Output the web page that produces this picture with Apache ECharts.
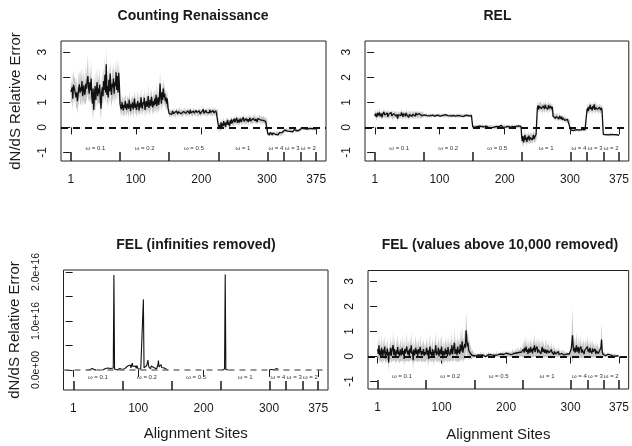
<!DOCTYPE html>
<html><head><meta charset="utf-8">
<script src="https://cdn.jsdelivr.net/npm/echarts@6/dist/echarts.min.js"></script>
<style>html,body{margin:0;padding:0;background:#fff}#c{width:632px;height:446px}</style>
</head><body><div id="c"></div><script>
const FONT = "'Liberation Sans', Arial, Helvetica, sans-serif";
const panelTitles = ['Counting Renaissance', 'REL', 'FEL (infinities removed)', 'FEL (values above 10,000 removed)'];
const xTickValues = [1, 100, 200, 300, 375];
const segmentBounds = [1, 76, 151, 226, 301, 326, 351, 375];
const omegaPos = [38.5, 113.5, 188.5, 263.5, 313.5, 338.5, 363];
const omegaLabels = ['ω = 0.1', 'ω = 0.2', 'ω = 0.5', 'ω = 1', 'ω = 4', 'ω = 3', 'ω = 2'];
const yTickValues = [-1, 0, 1, 2, 3];
const felInfYTicks = [0, 5e15, 1e16, 1.5e16, 2e16];
const felInfYLabels = [0, 1e16, 2e16];
const sites = Array.from({length: 375}, (_, i) => i + 1);

// Counting Renaissance: relative error per site and half-width of the grey band
const crMean = [
1.42,1.35,1.60,1.15,1.70,1.62,1.48,1.55,1.20,1.40,
1.05,1.30,1.55,1.72,1.38,1.60,1.45,1.85,1.25,1.50,
1.68,1.30,1.42,1.75,1.55,1.90,2.05,1.60,1.35,1.80,
1.48,1.95,1.20,0.95,1.55,0.70,1.30,1.65,1.10,1.45,
1.80,1.25,1.55,1.35,1.70,1.05,0.75,1.40,1.60,1.25,
1.85,1.50,2.10,1.40,2.52,1.30,1.65,1.20,1.90,1.45,
2.15,1.55,1.30,1.75,1.60,1.95,1.35,1.80,1.65,2.20,
1.50,2.05,1.40,2.18,1.70,
0.95,0.80,0.72,1.00,0.85,0.68,0.90,0.78,1.05,0.82,
0.70,0.95,0.88,0.75,1.10,0.85,0.65,0.92,0.80,1.00,
0.72,0.88,1.15,0.78,0.95,0.70,0.85,1.05,0.90,0.68,
0.98,0.80,1.20,0.85,0.75,1.00,0.92,1.18,0.70,0.88,
1.05,0.82,0.95,1.25,0.78,0.90,1.10,0.85,1.22,0.95,
0.80,1.05,0.88,1.15,0.92,1.30,0.85,1.00,1.20,0.90,
1.10,1.75,1.25,0.95,1.40,1.10,1.55,1.20,1.35,1.05,
1.20,0.95,1.15,0.80,0.75,
0.55,0.48,0.62,0.58,0.52,0.65,0.60,0.55,0.62,0.50,
0.58,0.66,0.60,0.54,0.63,0.57,0.70,0.60,0.55,0.62,
0.58,0.52,0.64,0.60,0.68,0.56,0.61,0.54,0.66,0.59,
0.63,0.55,0.70,0.58,0.62,0.52,0.60,0.65,0.57,0.63,
0.55,0.68,0.60,0.53,0.62,0.58,0.66,0.54,0.61,0.57,
0.64,0.60,0.72,0.56,0.62,0.58,0.68,0.60,0.55,0.66,
0.62,0.58,0.70,0.60,0.64,0.56,0.62,0.68,0.58,0.63,
0.60,0.66,0.57,0.62,0.60,
0.05,-0.05,0.10,0.00,0.20,-0.02,0.15,0.05,0.25,0.08,
0.18,0.02,0.22,0.12,0.30,0.10,0.20,0.05,0.28,0.15,
0.32,0.18,0.25,0.12,0.35,0.20,0.28,0.22,0.38,0.18,
0.30,0.25,0.20,0.35,0.28,0.22,0.32,0.26,0.40,0.24,
0.30,0.20,0.35,0.28,0.25,0.33,0.22,0.30,0.38,0.26,
0.32,0.28,0.24,0.36,0.30,0.42,0.26,0.34,0.30,0.22,
0.35,0.28,0.32,0.40,0.30,0.25,0.36,0.30,0.28,0.34,
0.26,0.30,0.24,0.20,0.28,
-0.22,-0.28,-0.25,-0.30,-0.20,-0.26,-0.24,-0.30,-0.22,-0.27,
-0.25,-0.20,-0.28,-0.24,-0.26,-0.22,-0.30,-0.25,-0.21,-0.27,
-0.23,-0.26,-0.20,-0.24,-0.22,
-0.14,-0.10,-0.16,-0.12,-0.08,-0.15,-0.11,-0.13,-0.09,-0.16,
-0.12,-0.10,-0.14,-0.18,-0.11,-0.13,-0.09,-0.15,-0.12,-0.10,
-0.14,-0.11,-0.16,-0.12,-0.10,
-0.04,-0.07,-0.02,-0.06,-0.03,-0.08,-0.05,-0.02,-0.06,-0.04,
-0.07,-0.03,-0.05,-0.09,-0.04,-0.02,-0.06,-0.03,-0.05,-0.07,
-0.02,-0.04,-0.06,-0.03,-0.05
];
const crErr = [
0.40,0.35,0.55,0.45,0.60,0.40,0.50,0.35,0.45,0.60,
0.50,0.40,0.65,0.45,0.38,0.70,0.50,0.55,0.42,0.48,
0.60,0.40,0.50,0.75,0.45,0.55,0.85,0.50,0.40,0.65,
0.48,0.70,0.45,0.55,0.50,0.40,0.45,0.60,0.50,0.42,
0.65,0.45,0.55,0.40,0.70,0.50,0.45,0.48,0.60,0.42,
0.55,0.45,0.75,0.50,0.70,0.45,0.60,0.40,0.65,0.50,
0.55,0.60,0.45,0.70,0.50,0.65,0.45,0.55,0.60,0.55,
0.45,0.60,0.40,0.55,0.45,
0.30,0.25,0.35,0.28,0.32,0.25,0.38,0.30,0.28,0.35,
0.25,0.32,0.30,0.40,0.28,0.30,0.25,0.35,0.30,0.28,
0.32,0.38,0.30,0.25,0.35,0.28,0.30,0.42,0.30,0.26,
0.35,0.28,0.40,0.30,0.25,0.32,0.30,0.38,0.28,0.30,
0.35,0.30,0.28,0.45,0.30,0.32,0.38,0.30,0.35,0.28,
0.30,0.40,0.32,0.35,0.30,0.42,0.30,0.35,0.40,0.30,
0.38,0.45,0.40,0.32,0.40,0.35,0.42,0.35,0.38,0.30,
0.32,0.28,0.30,0.25,0.22,
0.12,0.10,0.14,0.11,0.13,0.10,0.15,0.12,0.11,0.14,
0.10,0.13,0.12,0.16,0.11,0.12,0.14,0.10,0.13,0.12,
0.15,0.11,0.12,0.10,0.14,0.13,0.11,0.12,0.15,0.10,
0.12,0.14,0.11,0.13,0.12,0.10,0.15,0.12,0.11,0.13,
0.14,0.10,0.12,0.13,0.11,0.15,0.12,0.10,0.14,0.12,
0.11,0.13,0.16,0.12,0.10,0.14,0.12,0.11,0.13,0.15,
0.12,0.10,0.14,0.12,0.13,0.11,0.15,0.12,0.10,0.13,
0.12,0.14,0.11,0.12,0.13,
0.15,0.18,0.14,0.16,0.20,0.13,0.17,0.15,0.19,0.14,
0.16,0.13,0.18,0.15,0.14,0.17,0.12,0.15,0.16,0.13,
0.15,0.12,0.14,0.16,0.13,0.15,0.12,0.14,0.17,0.13,
0.12,0.15,0.13,0.14,0.12,0.16,0.13,0.12,0.15,0.13,
0.14,0.12,0.15,0.13,0.12,0.14,0.16,0.12,0.13,0.15,
0.12,0.14,0.13,0.15,0.12,0.16,0.13,0.14,0.12,0.13,
0.15,0.12,0.14,0.13,0.12,0.15,0.13,0.12,0.14,0.13,
0.12,0.14,0.13,0.12,0.13,
0.08,0.07,0.09,0.06,0.08,0.07,0.08,0.09,0.06,0.07,
0.08,0.07,0.06,0.08,0.09,0.07,0.08,0.06,0.07,0.08,
0.07,0.09,0.06,0.08,0.07,
0.06,0.07,0.05,0.08,0.06,0.07,0.05,0.06,0.08,0.06,
0.07,0.05,0.06,0.07,0.08,0.06,0.05,0.07,0.06,0.08,
0.06,0.07,0.05,0.06,0.07,
0.05,0.06,0.04,0.05,0.06,0.05,0.04,0.06,0.05,0.07,
0.05,0.04,0.06,0.05,0.04,0.06,0.05,0.04,0.05,0.06,
0.04,0.05,0.06,0.04,0.05
];

// REL
const relMean = [
0.45,0.55,0.50,0.42,0.58,0.48,0.52,0.60,0.45,0.50,
0.55,0.40,0.52,0.48,0.62,0.50,0.45,0.55,0.50,0.58,
0.42,0.52,0.48,0.55,0.50,0.60,0.46,0.52,0.40,0.55,
0.50,0.48,0.58,0.44,0.52,0.35,0.50,0.55,0.45,0.52,
0.48,0.60,0.50,0.42,0.55,0.48,0.52,0.45,0.58,0.50,
0.46,0.54,0.40,0.52,0.48,0.56,0.50,0.44,0.53,0.48,
0.55,0.50,0.45,0.58,0.50,0.48,0.52,0.46,0.55,0.50,
0.48,0.52,0.47,0.53,0.50,
0.48,0.50,0.46,0.49,0.52,0.47,0.45,0.50,0.48,0.46,
0.50,0.47,0.44,0.49,0.51,0.47,0.48,0.45,0.50,0.48,
0.46,0.49,0.47,0.52,0.48,0.45,0.47,0.50,0.46,0.48,
0.49,0.45,0.47,0.51,0.48,0.46,0.50,0.47,0.44,0.48,
0.50,0.46,0.48,0.45,0.49,0.47,0.51,0.46,0.48,0.45,
0.50,0.47,0.43,0.48,0.46,0.50,0.47,0.45,0.49,0.46,
0.48,0.44,0.50,0.47,0.45,0.49,0.46,0.48,0.51,0.46,
0.48,0.45,0.49,0.47,0.48,
0.02,0.04,0.00,0.05,0.01,0.06,0.02,-0.01,0.04,0.03,
0.07,0.02,0.05,0.00,0.03,0.08,0.02,0.04,-0.02,0.03,
0.05,0.01,0.06,0.03,0.00,0.04,0.02,0.05,-0.01,0.03,
0.02,0.05,0.00,0.03,-0.02,0.01,0.04,0.00,0.02,-0.01,
0.03,0.01,0.05,0.02,0.08,0.03,0.00,0.04,0.02,0.06,
0.01,0.03,0.05,0.02,0.04,0.00,0.06,0.03,0.01,0.05,
0.02,0.07,0.03,0.04,0.01,0.05,0.03,0.08,0.02,0.04,
0.06,0.03,0.05,0.02,0.04,
-0.40,-0.55,-0.35,-0.60,-0.45,-0.30,-0.50,-0.42,-0.58,-0.38,
-0.48,-0.33,-0.52,-0.40,-0.45,-0.36,-0.50,-0.42,-0.30,-0.46,
-0.38,-0.44,-0.28,-0.35,
0.78,0.88,0.72,0.85,0.80,0.92,0.75,0.82,0.70,0.86,
0.79,0.74,0.90,0.80,0.76,0.84,0.72,0.88,0.81,0.77,
0.85,0.80,0.74,0.82,
0.45,0.52,0.40,0.48,0.36,0.44,0.50,0.38,0.42,0.33,
0.46,0.40,0.35,0.43,0.30,0.38,0.32,0.40,0.28,0.35,
0.30,0.26,0.32,0.24,0.28,0.22,0.25,
-0.10,-0.12,-0.09,-0.11,-0.13,-0.10,-0.08,-0.12,-0.11,-0.09,
-0.12,-0.10,-0.13,-0.11,-0.09,-0.10,-0.12,-0.11,-0.08,-0.10,
-0.12,-0.11,-0.09,-0.10,-0.11,
0.70,0.78,0.65,0.82,0.74,0.90,0.72,0.80,0.68,0.85,
0.76,0.92,0.70,0.80,0.74,0.86,0.72,0.78,0.66,0.80,
0.74,0.70,0.78,0.68,0.72,
-0.28,-0.30,-0.26,-0.32,-0.29,-0.27,-0.31,-0.28,-0.30,-0.26,
-0.29,-0.32,-0.28,-0.30,-0.27,-0.31,-0.29,-0.28,-0.30,-0.32,
-0.29,-0.31,-0.28,-0.30,-0.32
];
const relErr = [
0.12,0.15,0.10,0.14,0.18,0.11,0.13,0.16,0.12,0.10,
0.15,0.12,0.14,0.11,0.17,0.13,0.10,0.14,0.12,0.16,
0.11,0.13,0.15,0.12,0.10,0.14,0.12,0.18,0.11,0.13,
0.15,0.10,0.12,0.14,0.11,0.16,0.13,0.12,0.10,0.15,
0.12,0.14,0.11,0.13,0.17,0.12,0.10,0.14,0.12,0.15,
0.11,0.13,0.12,0.16,0.10,0.14,0.12,0.11,0.13,0.15,
0.12,0.10,0.14,0.12,0.13,0.11,0.15,0.12,0.10,0.13,
0.12,0.14,0.11,0.12,0.10,
0.06,0.05,0.07,0.06,0.08,0.05,0.06,0.07,0.05,0.06,
0.08,0.06,0.05,0.07,0.06,0.05,0.07,0.06,0.08,0.05,
0.06,0.07,0.05,0.06,0.08,0.06,0.05,0.07,0.06,0.05,
0.07,0.06,0.05,0.08,0.06,0.07,0.05,0.06,0.07,0.05,
0.06,0.08,0.05,0.06,0.07,0.06,0.05,0.07,0.06,0.05,
0.07,0.06,0.08,0.05,0.06,0.07,0.05,0.06,0.08,0.06,
0.05,0.07,0.06,0.05,0.07,0.06,0.05,0.06,0.07,0.05,
0.06,0.05,0.07,0.06,0.05,
0.05,0.07,0.06,0.05,0.08,0.06,0.05,0.07,0.06,0.09,
0.05,0.06,0.07,0.05,0.06,0.08,0.05,0.07,0.06,0.05,
0.07,0.06,0.05,0.08,0.06,0.05,0.07,0.06,0.05,0.09,
0.06,0.05,0.07,0.06,0.08,0.05,0.06,0.07,0.05,0.06,
0.08,0.05,0.07,0.06,0.10,0.05,0.06,0.07,0.05,0.08,
0.06,0.05,0.07,0.06,0.09,0.05,0.07,0.06,0.05,0.08,
0.06,0.07,0.05,0.06,0.08,0.05,0.07,0.06,0.05,0.07,
0.06,0.08,0.05,0.06,0.07,
0.18,0.22,0.15,0.20,0.17,0.24,0.16,0.19,0.21,0.15,
0.18,0.20,0.16,0.22,0.17,0.19,0.15,0.21,0.18,0.16,
0.20,0.17,0.15,0.18,
0.15,0.18,0.13,0.16,0.20,0.14,0.17,0.15,0.19,0.13,
0.16,0.18,0.14,0.17,0.15,0.13,0.18,0.16,0.14,0.17,
0.15,0.13,0.16,0.14,
0.12,0.10,0.13,0.11,0.09,0.12,0.10,0.13,0.11,0.09,
0.12,0.10,0.11,0.09,0.12,0.10,0.08,0.11,0.09,0.10,
0.08,0.09,0.10,0.08,0.09,0.07,0.08,
0.04,0.05,0.03,0.04,0.05,0.04,0.03,0.05,0.04,0.04,
0.05,0.03,0.04,0.05,0.04,0.03,0.04,0.05,0.04,0.03,
0.05,0.04,0.03,0.04,0.05,
0.14,0.18,0.12,0.16,0.20,0.13,0.17,0.15,0.19,0.12,
0.16,0.18,0.14,0.20,0.13,0.17,0.15,0.12,0.16,0.14,
0.18,0.13,0.15,0.12,0.14,
0.04,0.05,0.03,0.04,0.05,0.04,0.03,0.04,0.05,0.03,
0.04,0.05,0.04,0.03,0.04,0.05,0.03,0.04,0.04,0.05,
0.03,0.04,0.05,0.03,0.04
];

// FEL (infinities removed): runs of finite values; sites outside the runs were removed
const felInfRunStarts = [22, 46, 228, 300];
const felInfRunA = [0,1e14,2e14,3e14,1e14,0,0,1e14,3e14,5e14,2e14,1e14,0,1e14,0];
const felInfRunB = [
0,1e14,2e14,1e14,3e14,1e14,0,2e14,4e14,1e14,5e14,8e14,3e14,2e14,6e14,1e14,4e14,1.94e16,2e14,1e14,0,
1e14,0,2e14,1e14,0,3e14,1e14,2e14,0,1e14,4e14,2e14,1e14,3e14,6e14,2e14,4e14,
8e14,5e14,1.2e15,6e14,1.0e15,4e14,9e14,1.4e15,7e14,5e14,1.1e15,6e14,8e14,3e14,9e14,5e14,2e14,
3e14,1e14,4e14,2e14,1e14,3e14,5e14,
1.44e16,
4e14,2e14,8e14,5e14,9e14,6e14,
2.0e15,
7e14,3e14,5e14,2e14,8e14,4e14,6e14,1.2e15,5e14,3e14,7e14,4e14,2e14,6e14,9e14,
1.9e15,
6e14,4e14,8e14,1.1e15,5e14,3e14,7e14,9e14,4e14,6e14,2e14,3e14,1e14,2e14,0
];
const felInfRunC = [0,0,1e14,0,2e14,1.95e16,1e14,0,0,1e14,0];
const felInfRunD = [0,1e14,0,2e14,1e14,3e14,2e14,4e14,1e14,2e14,0,1e14,3e14,1e14,0,0];

// FEL (values above 10,000 removed)
const felMean = [
0.30,0.10,0.45,0.05,0.25,-0.05,0.35,0.15,0.00,0.28,
0.12,0.40,-0.08,0.20,0.05,0.32,0.10,-0.25,0.18,0.08,
0.35,0.02,0.22,0.15,0.45,0.05,0.30,0.10,-0.05,0.25,
0.12,0.38,0.08,0.20,0.00,0.28,0.15,0.05,0.35,0.10,
0.22,-0.10,0.30,0.12,0.05,0.40,0.18,0.08,0.25,0.02,
0.32,0.15,0.45,0.10,0.20,-0.15,0.28,0.05,0.18,0.35,
0.10,0.25,0.00,0.30,0.12,0.08,0.38,0.15,0.05,0.22,
0.10,0.30,0.02,0.18,0.08,
0.15,0.35,0.05,0.25,-0.10,0.20,0.40,0.08,0.18,0.02,
0.30,0.10,-0.05,0.25,0.15,0.45,0.05,0.20,0.10,0.35,
0.00,0.18,0.28,0.08,0.40,0.12,-0.08,0.22,0.15,0.05,
0.32,0.10,0.25,0.00,0.38,0.15,0.20,0.05,0.30,0.12,
0.45,0.08,0.25,0.18,0.55,0.10,0.30,0.20,0.05,0.40,
0.15,0.28,0.10,0.48,0.20,0.35,0.60,0.15,0.30,0.25,
0.50,0.35,1.05,0.70,0.40,0.55,0.25,0.30,0.15,0.20,
0.10,0.05,0.12,0.08,0.05,
0.05,0.02,0.08,0.04,0.00,0.06,0.03,0.07,0.01,0.05,
0.09,0.04,0.02,0.06,0.08,0.03,0.05,-0.01,0.04,0.07,
0.02,0.06,0.10,0.05,0.03,0.08,0.04,0.06,0.02,0.05,
0.09,0.03,0.07,0.04,0.12,0.05,0.02,0.08,0.06,0.03,
0.07,0.10,0.04,0.06,0.12,0.08,0.05,0.10,0.07,0.13,
0.06,0.09,0.05,0.11,0.08,0.04,0.12,0.07,0.10,0.15,
0.08,0.12,0.06,0.18,0.10,0.14,0.08,0.20,0.12,0.16,
0.10,0.22,0.14,0.18,0.12,
0.20,0.30,0.15,0.35,0.22,0.40,0.18,0.28,0.10,0.32,
0.25,0.15,0.38,0.20,0.30,0.12,0.35,0.25,0.45,0.18,
0.30,0.22,0.40,0.15,0.28,0.35,0.20,0.32,0.10,0.25,
0.38,0.18,0.30,0.22,0.15,0.28,0.35,0.12,0.25,0.20,
0.30,0.15,0.22,0.10,0.28,0.18,0.12,0.25,0.08,0.20,
0.15,0.10,0.18,0.05,0.12,0.20,0.08,0.15,0.10,0.05,
0.12,0.08,0.15,0.10,0.06,0.12,0.08,0.04,0.10,0.06,
0.08,0.03,0.10,0.05,0.08,
0.30,0.55,0.85,0.40,0.20,0.35,0.15,0.30,0.45,0.18,
0.25,0.38,0.12,0.30,0.22,0.40,0.15,0.28,0.20,0.35,
0.10,0.25,0.32,0.18,0.28,
0.40,0.20,0.30,0.15,0.35,0.22,0.28,0.12,0.32,0.20,
0.25,0.15,0.30,0.10,0.22,0.18,0.28,0.12,0.20,0.15,
0.10,0.35,0.68,0.20,0.10,
0.08,0.05,0.10,0.03,0.07,0.02,0.06,0.09,0.04,0.08,
0.03,0.06,0.02,0.07,0.04,0.05,0.01,0.06,0.03,0.05,
0.02,0.04,0.01,0.03,0.02
];
const felErr = [
0.35,0.25,0.50,0.30,0.40,0.22,0.55,0.30,0.28,0.45,
0.30,0.50,0.25,0.38,0.30,0.45,0.28,0.40,0.35,0.25,
0.48,0.30,0.40,0.32,0.60,0.28,0.42,0.30,0.25,0.45,
0.32,0.50,0.28,0.40,0.30,0.45,0.35,0.25,0.50,0.30,
0.38,0.30,0.45,0.32,0.28,0.55,0.35,0.30,0.42,0.25,
0.48,0.32,0.55,0.30,0.40,0.35,0.45,0.28,0.38,0.50,
0.30,0.42,0.28,0.45,0.32,0.30,0.50,0.35,0.28,0.40,
0.32,0.45,0.28,0.35,0.30,
0.35,0.45,0.28,0.40,0.30,0.38,0.50,0.30,0.35,0.28,
0.45,0.32,0.30,0.40,0.35,0.55,0.28,0.38,0.32,0.48,
0.30,0.35,0.45,0.30,0.52,0.35,0.30,0.40,0.35,0.28,
0.45,0.32,0.40,0.30,0.50,0.35,0.38,0.30,0.45,0.35,
0.55,0.30,0.42,0.38,0.60,0.32,0.45,0.40,0.30,0.52,
0.38,0.45,0.32,0.58,0.40,0.48,0.65,0.38,0.45,0.40,
0.55,0.48,0.75,0.60,0.45,0.50,0.35,0.38,0.25,0.28,
0.20,0.15,0.18,0.12,0.10,
0.06,0.05,0.08,0.06,0.05,0.07,0.06,0.08,0.05,0.06,
0.09,0.06,0.05,0.07,0.08,0.05,0.06,0.05,0.07,0.08,
0.05,0.07,0.10,0.06,0.05,0.08,0.06,0.07,0.05,0.06,
0.09,0.05,0.08,0.06,0.12,0.06,0.05,0.09,0.07,0.06,
0.08,0.11,0.06,0.07,0.12,0.09,0.06,0.10,0.08,0.13,
0.07,0.10,0.06,0.12,0.09,0.06,0.13,0.08,0.11,0.16,
0.09,0.13,0.07,0.18,0.11,0.15,0.09,0.20,0.13,0.17,
0.12,0.22,0.15,0.18,0.14,
0.25,0.32,0.20,0.38,0.25,0.42,0.22,0.30,0.18,0.35,
0.28,0.20,0.40,0.25,0.32,0.18,0.38,0.28,0.45,0.22,
0.32,0.25,0.40,0.20,0.30,0.35,0.22,0.32,0.18,0.28,
0.38,0.22,0.30,0.25,0.20,0.30,0.35,0.18,0.28,0.22,
0.30,0.20,0.25,0.15,0.28,0.20,0.15,0.25,0.12,0.20,
0.18,0.12,0.18,0.10,0.15,0.20,0.10,0.15,0.12,0.08,
0.12,0.10,0.15,0.10,0.08,0.12,0.10,0.06,0.10,0.08,
0.10,0.06,0.10,0.07,0.08,
0.35,0.60,1.10,0.50,0.28,0.40,0.22,0.35,0.50,0.25,
0.30,0.42,0.20,0.35,0.28,0.45,0.22,0.32,0.25,0.40,
0.18,0.30,0.35,0.22,0.30,
0.40,0.25,0.32,0.20,0.38,0.25,0.30,0.18,0.35,0.22,
0.28,0.20,0.32,0.15,0.25,0.22,0.30,0.18,0.22,0.18,
0.15,0.40,0.65,0.25,0.12,
0.08,0.06,0.10,0.05,0.08,0.05,0.07,0.09,0.06,0.08,
0.05,0.07,0.05,0.08,0.06,0.06,0.04,0.07,0.05,0.06,
0.04,0.05,0.04,0.05,0.04
];

const grids = [
  {left: 61, top: 41, width: 265, height: 120},
  {left: 365, top: 41, width: 265, height: 120},
  {left: 63.5, top: 270, width: 264.5, height: 120},
  {left: 368, top: 270.5, width: 264.5, height: 118.5}
];
const yRanges = [[-1.34, 3.45], [-1.34, 3.45], [-0.41e16, 2.04e16], [-1.30, 3.44]];
const titlePos = [[193, 16], [497.5, 16], [196, 245], [500, 245]];

const ink = '#1a1a1a';
const xAxes = [], yAxes = [], series = [], graphics = [];

grids.forEach((g, gi) => {
  const bottomRow = gi >= 2;
  xAxes.push({
    gridIndex: gi, type: 'value', min: -14, max: 390, position: 'bottom',
    axisLine: {show: false}, splitLine: {show: false},
    axisTick: {show: true, customValues: xTickValues, length: 7, lineStyle: {color: ink, width: 1}},
    axisLabel: {customValues: xTickValues, fontSize: 12, margin: 13, color: ink, fontFamily: FONT},
    name: bottomRow ? 'Alignment Sites' : '', nameLocation: 'middle', nameGap: gi === 2 ? 36 : 38,
    nameTextStyle: {fontSize: 15, color: ink, fontFamily: FONT}
  });
  xAxes.push({
    gridIndex: gi, type: 'value', min: -14, max: 390, position: 'bottom',
    axisLine: {show: false}, splitLine: {show: false},
    axisTick: {show: true, inside: true, customValues: segmentBounds, length: 9, lineStyle: {color: ink, width: 1.5}},
    axisLabel: {customValues: omegaPos, inside: true, margin: 10, fontSize: 6, color: '#333', fontFamily: FONT,
      hideOverlap: false, formatter: v => omegaLabels[omegaPos.indexOf(v)] || ''}
  });
  const isFelInf = gi === 2;
  yAxes.push({
    gridIndex: gi, type: 'value', min: yRanges[gi][0], max: yRanges[gi][1],
    axisLine: {show: false}, splitLine: {show: false},
    axisTick: {show: true, customValues: isFelInf ? felInfYTicks : yTickValues, length: 7, lineStyle: {color: ink, width: 1}},
    axisLabel: {customValues: isFelInf ? felInfYLabels : yTickValues, rotate: 90, margin: isFelInf ? 22 : 12,
      fontSize: isFelInf ? 10.5 : 12, color: ink, fontFamily: FONT,
      formatter: v => isFelInf ? v.toExponential(1).replace(/e([+-])(\d)$/, 'e$10$2') : String(v)},
    name: (gi % 2 === 0) ? 'dN/dS Relative Error' : '', nameLocation: 'middle', nameRotate: 90,
    nameGap: gi === 0 ? 38 : 41, nameTextStyle: {fontSize: 15, color: ink, fontFamily: FONT}
  });
  graphics.push({
    type: 'text', x: titlePos[gi][0], y: titlePos[gi][1], silent: true,
    style: {text: panelTitles[gi], font: 'bold 14px ' + FONT, fill: ink,
      textAlign: 'center', textVerticalAlign: 'middle', align: 'center', verticalAlign: 'middle'}
  });
});

const zeroLine = (color, width, dash) => ({
  silent: true, symbol: ['none', 'none'], label: {show: false},
  lineStyle: {color: color, width: width, type: dash}, data: [{yAxis: 0}]
});

function addBandPanel(gi, mean, err) {
  const xi = gi * 2;
  // grey band: polygon through (site, mean + err) and back through (site, mean - err)
  series.push({
    type: 'custom', xAxisIndex: xi, yAxisIndex: gi, silent: true, z: 1,
    data: [[sites[0], mean[0]]],
    renderItem: (params, api) => {
      const upper = sites.map((s, i) => api.coord([s, mean[i] + err[i]]));
      const lower = sites.map((s, i) => api.coord([s, mean[i] - err[i]])).reverse();
      return {type: 'polygon', shape: {points: upper.concat(lower)}, style: {fill: '#c6c6c6'}};
    }
  });
  series.push({
    type: 'line', xAxisIndex: xi, yAxisIndex: gi, symbol: 'none', silent: true, z: 3,
    lineStyle: {color: '#111', width: 1.3},
    data: sites.map((s, i) => [s, mean[i]]),
    markLine: zeroLine('#111', 2, [7, 5])
  });
}
addBandPanel(0, crMean, crErr);
addBandPanel(1, relMean, relErr);
addBandPanel(3, felMean, felErr);

// FEL infinities removed: runs joined, broken by gaps
const felInfRuns = [felInfRunA, felInfRunB, felInfRunC, felInfRunD];
const felInfData = [];
felInfRuns.forEach((run, r) => {
  run.forEach((v, i) => felInfData.push([felInfRunStarts[r] + i, v]));
  felInfData.push([felInfRunStarts[r] + run.length, null]);
});
series.push({
  type: 'line', xAxisIndex: 4, yAxisIndex: 2, symbol: 'none', silent: true, z: 3,
  connectNulls: false, lineStyle: {color: '#111', width: 1.1},
  data: felInfData,
  markLine: zeroLine('#777', 1.6, [6, 5])
});

const chart = echarts.init(document.getElementById('c'), null, {renderer: 'canvas'});
chart.setOption({
  animation: false,
  backgroundColor: '#fff',
  textStyle: {fontFamily: FONT},
  grid: grids.map(g => Object.assign({show: true, borderColor: '#222', borderWidth: 1, backgroundColor: 'transparent', containLabel: false}, g)),
  xAxis: xAxes,
  yAxis: yAxes,
  series: series,
  graphic: graphics
});
</script></body></html>
